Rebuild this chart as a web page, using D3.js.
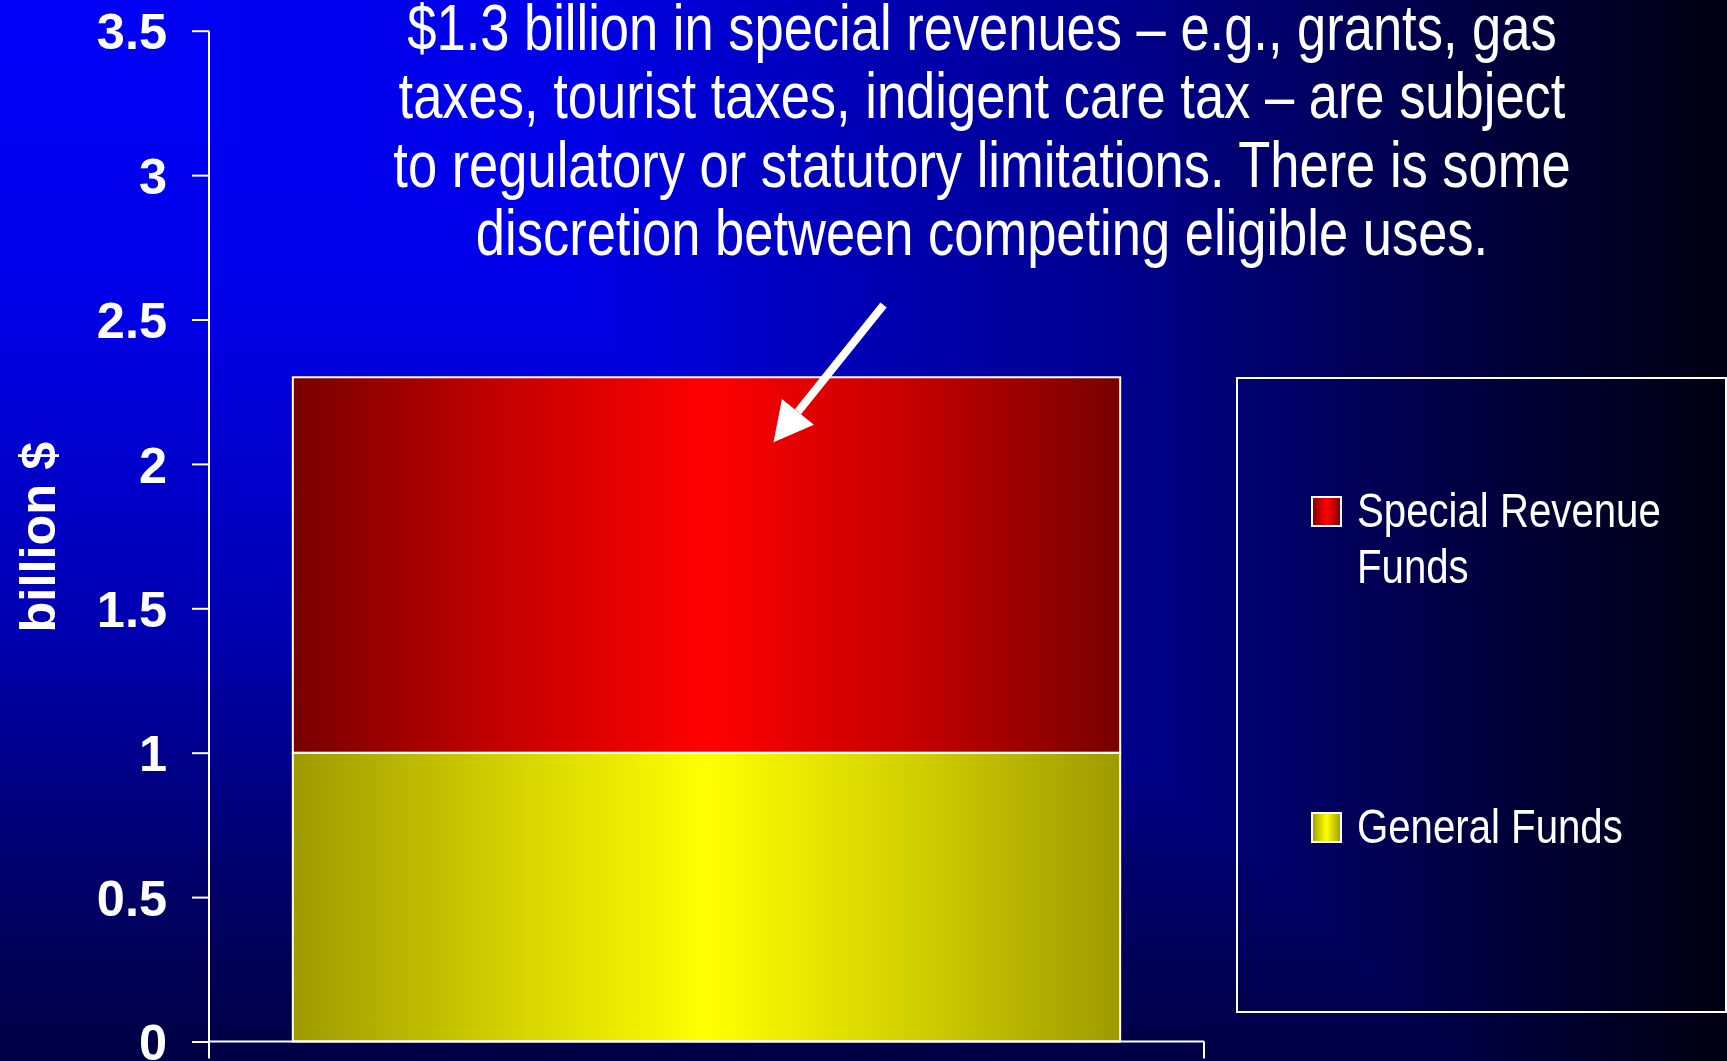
<!DOCTYPE html>
<html>
<head>
<meta charset="utf-8">
<script src="https://cdn.jsdelivr.net/npm/d3@7"></script>
<style>
  html, body { margin: 0; padding: 0; background: #000030; overflow: hidden; }
  svg { display: block; }
  text { fill: #ffffff; }
</style>
</head>
<body>
<svg id="chart" width="1727" height="1061"></svg>
<script>
// ---- data -------------------------------------------------------------
const categories = ["All Funds"];
const seriesKeys = ["general", "special"];
const seriesNames = ["General Funds", "Special Revenue Funds"];
const generalFunds = [1.0];   // billion $
const specialRevenue = [1.3]; // billion $
const yTickValues = [0, 0.5, 1, 1.5, 2, 2.5, 3, 3.5];
const yTickLabels = ["0", "0.5", "1", "1.5", "2", "2.5", "3", "3.5"];
const yAxisTitle = "billion $";
const titleLines = [
  "$1.3 billion in special revenues \u2013 e.g., grants, gas",
  "taxes, tourist taxes, indigent care tax \u2013 are subject",
  "to regulatory or statutory limitations. There is some",
  "discretion between competing eligible uses."
];
const legendLines = [
  ["Special Revenue", "Funds"],
  ["General Funds"]
];

// ---- setup ------------------------------------------------------------
const W = 1727, H = 1061;
const svg = d3.select("#chart");
const defs = svg.append("defs");

const NARROW = "'Liberation Sans Narrow', 'Arial Narrow', 'Liberation Sans', Arial, sans-serif";
const BOLD = "'Liberation Sans', Arial, Helvetica, sans-serif";

// background: horizontal and vertical fades combined with a darken blend
function linGrad(id, x2, y2, stops) {
  const g = defs.append("linearGradient").attr("id", id)
    .attr("x1", 0).attr("y1", 0).attr("x2", x2).attr("y2", y2);
  stops.forEach(([o, c]) => g.append("stop").attr("offset", o).attr("stop-color", c));
  return g;
}
linGrad("bgH", 1, 0, [
  [0, "#0000f8"], [0.33, "#0000e8"], [0.51, "#0000b2"], [0.64, "#000090"],
  [0.76, "#000062"], [0.89, "#000034"], [1, "#000012"]
]);
linGrad("bgV", 0, 1, [
  [0, "#0000fa"], [0.28, "#0000e8"], [0.42, "#0000d0"], [0.6, "#0000b0"],
  [0.66, "#00009c"], [0.83, "#000068"], [1, "#000044"]
]);
svg.append("rect").attr("width", W).attr("height", H).attr("fill", "url(#bgH)");
svg.append("rect").attr("width", W).attr("height", H).attr("fill", "url(#bgV)")
  .style("mix-blend-mode", "darken");

// bar shading: dark edges, bright centre
const barColors = {
  special: ["#780000", "#c40000", "#ff0000"],
  general: ["#9e9a00", "#d2cf00", "#ffff00"]
};
Object.entries(barColors).forEach(([k, [edge, mid, centre]]) => {
  linGrad("grad-" + k, 1, 0, [
    [0, edge], [0.25, mid], [0.5, centre], [0.75, mid], [1, edge]
  ]);
});

// ---- scales -----------------------------------------------------------
const plot = { left: 209, right: 1204, top: 30.7, bottom: 1041.5 };
const y = d3.scaleLinear().domain([0, 3.5]).range([plot.bottom, plot.top]);
const x = d3.scaleBand().domain(categories).range([plot.left, plot.right])
  .paddingInner(0.092).paddingOuter(0.092);

const rows = categories.map((c, i) => ({
  category: c, general: generalFunds[i], special: specialRevenue[i]
}));
const stacked = d3.stack().keys(seriesKeys)(rows);

// ---- bars -------------------------------------------------------------
const barG = svg.append("g");
stacked.forEach(layer => {
  barG.selectAll(null).data(layer).enter().append("rect")
    .attr("x", d => x(d.data.category))
    .attr("width", x.bandwidth())
    .attr("y", d => y(d[1]))
    .attr("height", d => y(d[0]) - y(d[1]))
    .attr("fill", "url(#grad-" + layer.key + ")")
    .attr("stroke", "#ffffff")
    .attr("stroke-width", 2);
});

// ---- axes -------------------------------------------------------------
const yAxis = d3.axisLeft(y)
  .tickValues(yTickValues)
  .tickFormat((d, i) => yTickLabels[i])
  .tickSize(17)
  .tickPadding(25);
const yG = svg.append("g").attr("transform", `translate(${plot.left},0)`).call(yAxis);
yG.select(".domain").remove();
yG.selectAll(".tick line").attr("stroke", "#ffffff").attr("stroke-width", 2);
yG.selectAll(".tick text")
  .attr("font-family", BOLD).attr("font-weight", "bold").attr("font-size", 50.5)
  .attr("fill", "#ffffff").attr("dy", "0.36em");
// vertical axis line, running slightly past the baseline
svg.append("line")
  .attr("x1", plot.left).attr("x2", plot.left)
  .attr("y1", y(3.5)).attr("y2", y(0) + 17)
  .attr("stroke", "#ffffff").attr("stroke-width", 2);

// category axis: baseline with end ticks at the band edges
const [xr0, xr1] = x.range();
svg.append("line")
  .attr("x1", xr0).attr("x2", xr1).attr("y1", y(0)).attr("y2", y(0))
  .attr("stroke", "#ffffff").attr("stroke-width", 2);
svg.append("line")
  .attr("x1", xr1).attr("x2", xr1).attr("y1", y(0)).attr("y2", y(0) + 17)
  .attr("stroke", "#ffffff").attr("stroke-width", 2);

// y axis title
svg.append("text")
  .attr("transform", `translate(55,${(y(0) + y(3.5)) / 2 + 1}) rotate(-90)`)
  .attr("text-anchor", "middle")
  .attr("font-family", BOLD).attr("font-weight", "bold").attr("font-size", 50.5)
  .text(yAxisTitle);

// ---- annotation -------------------------------------------------------
const titleG = svg.append("g");
titleLines.forEach((line, i) => {
  titleG.append("text")
    .attr("class", "narrow")
    .attr("x", 982).attr("y", 50 + i * 68.4)
    .attr("text-anchor", "middle")
    .attr("font-family", NARROW).attr("font-size", 64)
    .text(line);
});

// arrow pointing into the special revenue segment
const bx = x(categories[0]), bw = x.bandwidth();
const tail = [bx + bw * 0.714, y(2.55)];
const tip = [bx + bw * 0.581, y(2.075)];
const ang = Math.atan2(tip[1] - tail[1], tip[0] - tail[0]);
const headLen = 39, headHalf = 20.5;
const baseMid = [tip[0] - headLen * Math.cos(ang), tip[1] - headLen * Math.sin(ang)];
svg.append("line")
  .attr("x1", tail[0]).attr("y1", tail[1])
  .attr("x2", baseMid[0]).attr("y2", baseMid[1])
  .attr("stroke", "#ffffff").attr("stroke-width", 8);
svg.append("path")
  .attr("d", d3.line()([
    tip,
    [baseMid[0] + headHalf * Math.sin(ang), baseMid[1] - headHalf * Math.cos(ang)],
    [baseMid[0] - headHalf * Math.sin(ang), baseMid[1] + headHalf * Math.cos(ang)]
  ]) + "Z")
  .attr("fill", "#ffffff");

// ---- legend -----------------------------------------------------------
const legend = { x: 1237, y: 378, w: 489, h: 634 };
svg.append("rect")
  .attr("x", legend.x).attr("y", legend.y)
  .attr("width", legend.w).attr("height", legend.h)
  .attr("fill", "none").attr("stroke", "#ffffff").attr("stroke-width", 2);

const legendItems = [
  { key: "special", lines: legendLines[0], baseline: 527 },
  { key: "general", lines: legendLines[1], baseline: 843 }
];
legendItems.forEach(item => {
  svg.append("rect")
    .attr("x", legend.x + 75).attr("y", item.baseline - 30)
    .attr("width", 29).attr("height", 29)
    .attr("fill", "url(#grad-" + item.key + ")")
    .attr("stroke", "#ffffff").attr("stroke-width", 2);
  item.lines.forEach((ln, j) => {
    svg.append("text")
      .attr("class", "narrow")
      .attr("x", legend.x + 120).attr("y", item.baseline + j * 56)
      .attr("font-family", NARROW).attr("font-size", 49)
      .text(ln);
  });
});

// If no condensed face is installed, squeeze the regular face horizontally.
(function () {
  const probe = svg.append("text").attr("font-size", 100).attr("x", -9999).attr("y", -9999)
    .text("Special Revenue discretion");
  probe.attr("font-family", "'Liberation Sans', Arial, sans-serif");
  const wide = probe.node().getComputedTextLength();
  probe.attr("font-family", NARROW);
  const narrow = probe.node().getComputedTextLength();
  probe.remove();
  if (narrow / wide > 0.95) {
    svg.selectAll("text.narrow").each(function () {
      const t = d3.select(this);
      t.attr("textLength", this.getComputedTextLength() * 0.82)
       .attr("lengthAdjust", "spacingAndGlyphs");
    });
  }
})();
</script>
</body>
</html>
